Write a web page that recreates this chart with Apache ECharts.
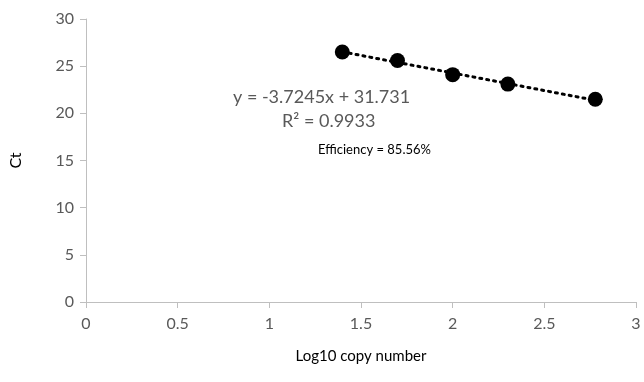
<!DOCTYPE html>
<html><head><meta charset="utf-8">
<script src="https://cdn.jsdelivr.net/npm/echarts@6/dist/echarts.min.js"></script>
<style>html,body{margin:0;padding:0;background:#fff}#c{width:644px;height:382px}</style>
</head><body><div id="c"></div>
<script>
const logCopy = [1.398, 1.699, 2.0, 2.301, 2.778];
const ctValues = [26.5, 25.6, 24.1, 23.1, 21.5];
const trendX = [1.398, 2.778];
const trendY = [26.52, 21.38];
const equationText = 'y = -3.7245x + 31.731';
const r2Text = 'R² = 0.9933';
const effText = 'Efficiency = 85.56%';

const FONT = 'Lato, "Open Sans", sans-serif';
const chart = echarts.init(document.getElementById('c'));
chart.setOption({
  animation: false,
  grid: {left: 85, top: 19, right: 8, bottom: 80},
  xAxis: {
    type: 'value', min: 0, max: 3, interval: 0.5,
    name: 'Log10 copy number', nameLocation: 'middle', nameGap: 47,
    nameTextStyle: {color: '#000', fontSize: 15, fontFamily: FONT},
    axisLine: {show: true, lineStyle: {color: '#bfbfbf', width: 1}},
    axisTick: {show: true, length: 6, lineStyle: {color: '#bfbfbf'}},
    axisLabel: {color: '#595959', fontSize: 16, fontFamily: FONT, margin: 14},
    splitLine: {show: false}
  },
  yAxis: {
    type: 'value', min: 0, max: 30, interval: 5,
    name: 'Ct', nameLocation: 'middle', nameGap: 62, nameRotate: 90,
    nameTextStyle: {color: '#000', fontSize: 16, fontFamily: FONT},
    axisLine: {show: true, lineStyle: {color: '#bfbfbf', width: 1}},
    axisTick: {show: true, length: 6, lineStyle: {color: '#bfbfbf'}},
    axisLabel: {color: '#595959', fontSize: 16, fontFamily: FONT, margin: 12},
    splitLine: {show: false}
  },
  series: [
    {
      type: 'line', data: trendX.map((x, i) => [x, trendY[i]]),
      symbol: 'none', lineStyle: {color: '#000', width: 3, type: [2, 5], cap: 'round'},
      z: 1
    },
    {
      type: 'scatter', data: logCopy.map((x, i) => [x, ctValues[i]]),
      symbol: 'circle', symbolSize: 15, itemStyle: {color: '#000', opacity: 1}, z: 2
    }
  ],
  graphic: [
    {type: 'text', left: 233, top: 88, style: {text: equationText, fill: '#595959', font: '18px ' + FONT}},
    {type: 'text', left: 282, top: 112, style: {text: r2Text, fill: '#595959', font: '18px ' + FONT}},
    {type: 'text', left: 318, top: 143, style: {text: effText, fill: '#000', font: '13px ' + FONT}}
  ]
});
</script></body></html>
